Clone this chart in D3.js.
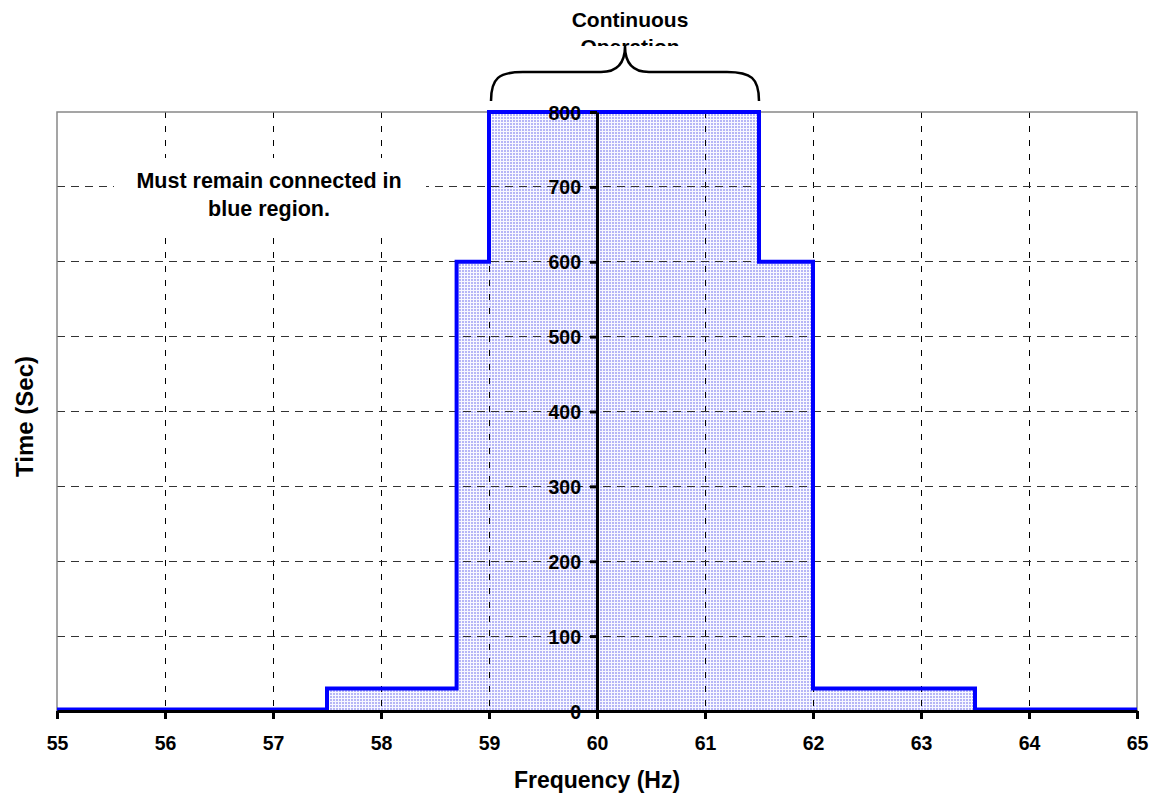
<!DOCTYPE html>
<html lang="en">
<head>
    <meta charset="UTF-8">
    <title>Frequency ride-through</title>
    <style>
        html, body { margin: 0; padding: 0; background: #fff; }
        #stage { width: 1156px; height: 799px; }
        text { font-family: "Liberation Sans", Arial, sans-serif; font-weight: bold; fill: #000; }
    </style>
</head>
<body>
    <div id="stage"></div>

    <script src="https://d3js.org/d3.v7.min.js"></script>
    <script>
        // step curve breakpoints (Hz) and the time limit from each breakpoint on (sec)
        const stepFreq = [55, 57.5, 58.7, 59, 61.5, 62, 63.5, 65];
        const stepTime = [2, 30, 600, 800, 600, 30, 2, 2];

        const xTicks = [55, 56, 57, 58, 59, 60, 61, 62, 63, 64, 65];
        const yTicks = [0, 100, 200, 300, 400, 500, 600, 700, 800];

        // brace over the continuous-operation band
        const braceFreq = [59, 61.5];

        const width = 1156, height = 799;
        const margin = { top: 112, right: 19, bottom: 88, left: 57 };

        const svg = d3.select('#stage').append('svg')
            .attr('width', width)
            .attr('height', height);

        const x = d3.scaleLinear()
            .domain([55, 65])
            .range([margin.left, width - margin.right]);

        const y = d3.scaleLinear()
            .domain([0, 800])
            .range([height - margin.bottom, margin.top]);

        const steps = stepFreq.map((f, i) => [f, stepTime[i]]);

        // dotted light blue fill
        const defs = svg.append('defs');
        const pat = defs.append('pattern')
            .attr('id', 'dots')
            .attr('width', 3).attr('height', 3)
            .attr('patternUnits', 'userSpaceOnUse');
        pat.append('rect').attr('width', 3).attr('height', 3).attr('fill', '#b6b6f6');
        pat.append('rect').attr('x', 2).attr('width', 1).attr('height', 3).attr('fill', '#f8f8ff');
        pat.append('rect').attr('y', 2).attr('width', 3).attr('height', 1).attr('fill', '#f8f8ff');

        defs.append('clipPath').attr('id', 'topClip')
            .append('rect').attr('x', 0).attr('y', 0).attr('width', width).attr('height', 46);

        const area = d3.area()
            .x(d => x(d[0]))
            .y0(y(0))
            .y1(d => y(d[1]))
            .curve(d3.curveStepAfter);

        svg.append('path')
            .datum(steps)
            .attr('d', area)
            .attr('fill', 'url(#dots)');

        // grid
        svg.append('g')
            .attr('shape-rendering', 'crispEdges')
            .selectAll('line')
            .data(xTicks.slice(1, -1))
            .join('line')
            .attr('x1', d => x(d)).attr('x2', d => x(d))
            .attr('y1', y(800)).attr('y2', y(0))
            .attr('stroke', '#000')
            .attr('stroke-width', 1)
            .attr('stroke-dasharray', '6,8');

        svg.append('g')
            .attr('shape-rendering', 'crispEdges')
            .selectAll('line')
            .data(yTicks.slice(1, -1))
            .join('line')
            .attr('x1', x(55)).attr('x2', x(65))
            .attr('y1', d => y(d)).attr('y2', d => y(d))
            .attr('stroke', '#333')
            .attr('stroke-width', 1)
            .attr('stroke-dasharray', '8,6');

        // plot frame (top, left, right)
        svg.append('path')
            .attr('d', `M${x(55)},${y(0)}V${y(800)}H${x(65)}V${y(0)}`)
            .attr('fill', 'none')
            .attr('stroke', '#888')
            .attr('stroke-width', 1.5);

        // note box
        const note = svg.append('g');
        note.append('rect')
            .attr('x', 114).attr('y', 158)
            .attr('width', 312).attr('height', 74)
            .attr('fill', '#fff');
        note.append('text')
            .attr('x', 269).attr('y', 188)
            .attr('text-anchor', 'middle')
            .attr('font-size', 21.5)
            .text('Must remain connected in');
        note.append('text')
            .attr('x', 269).attr('y', 216)
            .attr('text-anchor', 'middle')
            .attr('font-size', 21.5)
            .text('blue region.');

        // step line
        const line = d3.line()
            .x(d => x(d[0]))
            .y(d => y(d[1]))
            .curve(d3.curveStepAfter);

        svg.append('path')
            .datum(steps)
            .attr('d', line)
            .attr('fill', 'none')
            .attr('stroke', '#0000ff')
            .attr('stroke-width', 4)
            .attr('stroke-linejoin', 'miter');

        // axes
        const xAxis = svg.append('g')
            .attr('transform', `translate(0,${y(0)})`)
            .call(d3.axisBottom(x).tickValues(xTicks).tickSize(8).tickSizeOuter(0));

        const yAxis = svg.append('g')
            .attr('transform', `translate(${x(60)},0)`)
            .call(d3.axisLeft(y).tickValues(yTicks).tickSize(7).tickSizeOuter(0));

        [xAxis, yAxis].forEach(g => {
            g.select('.domain').attr('stroke', '#000').attr('stroke-width', 3);
            g.selectAll('.tick line').attr('stroke', '#000').attr('stroke-width', 3);
            g.selectAll('.tick text')
                .attr('font-family', '"Liberation Sans", Arial, sans-serif')
                .attr('font-weight', 'bold')
                .attr('font-size', 19.5)
                .attr('fill', '#000');
        });

        // place tick labels like the original
        xAxis.selectAll('.tick text').attr('y', 39).attr('dy', null);
        yAxis.selectAll('.tick text').attr('x', -16).attr('dy', '0.36em');

        // axis titles
        svg.append('text')
            .attr('x', x(60))
            .attr('y', 788)
            .attr('text-anchor', 'middle')
            .attr('font-size', 23)
            .text('Frequency (Hz)');

        svg.append('text')
            .attr('transform', `translate(33,${(y(0) + y(800)) / 2 + 5}) rotate(-90)`)
            .attr('text-anchor', 'middle')
            .attr('font-size', 24)
            .text('Time (Sec)');

        // brace
        const bx0 = x(braceFreq[0]) + 2, bx1 = x(braceFreq[1]);
        const mid = (bx0 + bx1) / 2;
        const bBot = 101, bMid = 72, bTop = 46;
        const p = d3.path();
        p.moveTo(bx0, bBot);
        p.bezierCurveTo(bx0, bMid + 6, bx0 + 8, bMid, bx0 + 32, bMid);
        p.lineTo(mid - 24, bMid);
        p.bezierCurveTo(mid - 8, bMid, mid, bMid - 8, mid, bTop);
        p.bezierCurveTo(mid, bMid - 8, mid + 8, bMid, mid + 24, bMid);
        p.lineTo(bx1 - 32, bMid);
        p.bezierCurveTo(bx1 - 8, bMid, bx1, bMid + 6, bx1, bBot);
        svg.append('path')
            .attr('d', p.toString())
            .attr('fill', 'none')
            .attr('stroke', '#000')
            .attr('stroke-width', 2.5);

        const cap = svg.append('g').attr('clip-path', 'url(#topClip)');
        cap.append('text')
            .attr('x', mid + 5).attr('y', 27)
            .attr('text-anchor', 'middle')
            .attr('font-size', 21)
            .text('Continuous');
        cap.append('text')
            .attr('x', mid + 5).attr('y', 54)
            .attr('text-anchor', 'middle')
            .attr('font-size', 21)
            .text('Operation');
    </script>
</body>
</html>
